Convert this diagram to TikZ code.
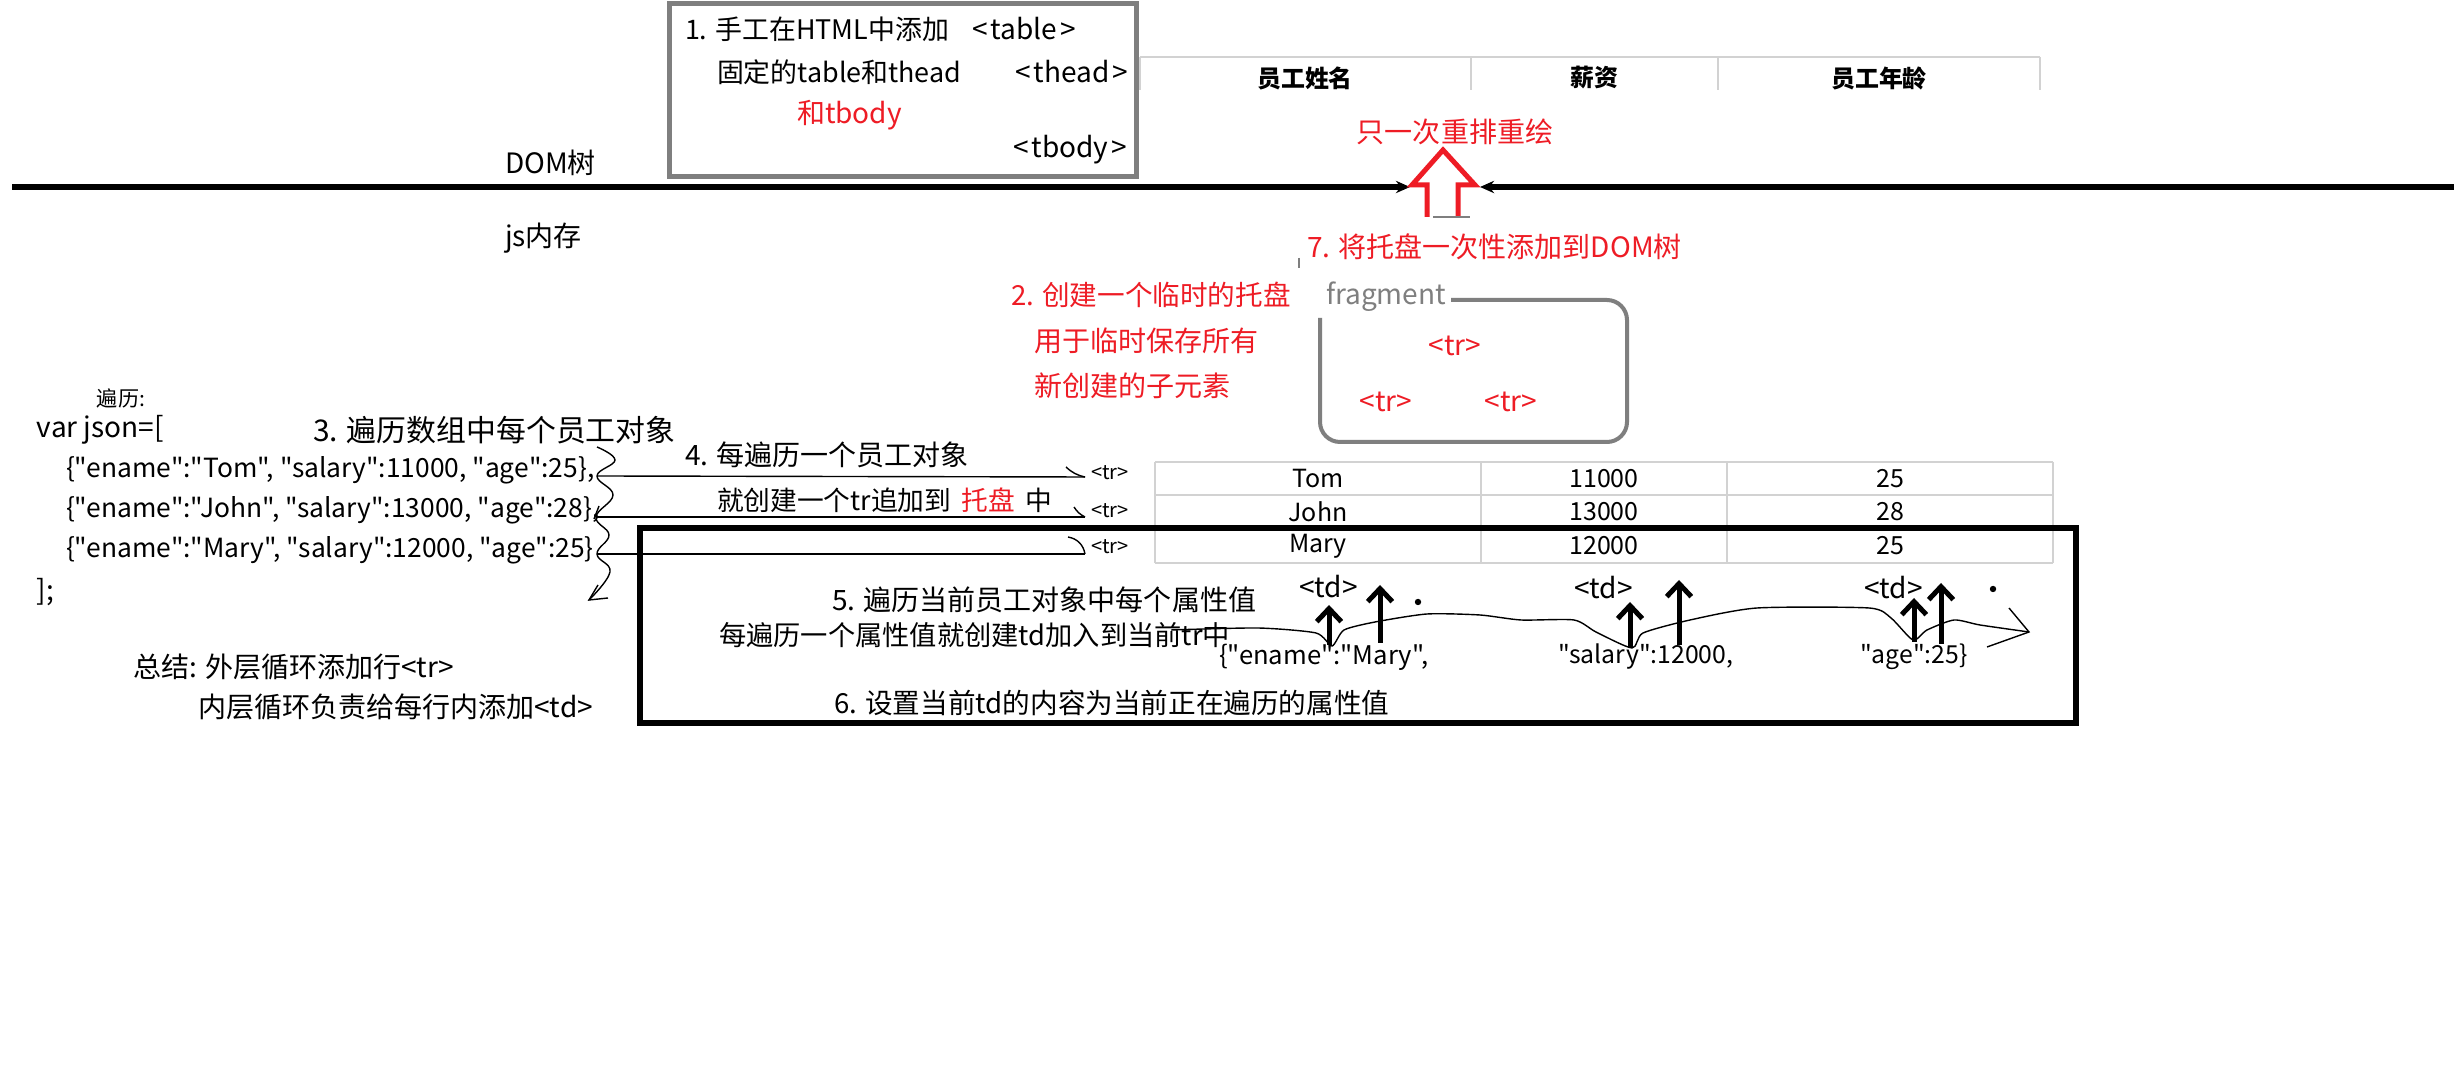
\documentclass[tikz,border=0pt]{standalone}
\usepackage{fontspec}
\setmainfont{Noto Sans CJK SC}[Ligatures=TeXOff]
\usetikzlibrary{arrows.meta}
\definecolor{redc}{HTML}{EE1C25}
\definecolor{grayc}{HTML}{7F7F7F}
\definecolor{tline}{HTML}{D2D2D2}
\newcommand\fs[1]{\fontsize{#1}{#1}\selectfont}
\newcommand\tagtxt[1]{<\hspace{0.9pt}#1\hspace{0.9pt}>}
\tikzset{
  txtbase/.style={inner sep=0pt, outer sep=0pt, anchor=west, font=\fs{7.97pt}},
  rtxt/.style={txtbase, text=redc},
  smalltxt/.style={txtbase, font=\fs{5.7pt}},
  hdrtxt/.style={inner sep=0pt, font=\bfseries\fs{6.8pt}},
  celltxt/.style={inner sep=0pt, font=\fs{7.1pt}},
  tabline/.style={draw=tline, line width=0.5pt},
  thinln/.style={line width=0.4pt},
  tdarrow/.style={line width=1.42pt, -{Straight Barb[length=3.7pt,width=7pt]}},
  domln/.style={line width=1.71pt, -{Stealth[length=4pt,width=3.5pt]}},
}
\begin{document}
\begin{tikzpicture}[x=0.01cm,y=-0.01cm]
\useasboundingbox (0,0) rectangle (2454,1086);
\fill[white] (0,0) rectangle (2454,1086);

% ---- box 1
\node (box1) [draw=grayc, line width=1.42pt, minimum width=4.66cm, minimum height=1.72cm, inner sep=0pt] at (903,90) {};
\node[txtbase, font=\fs{7.65pt}] (t1) at (685,29) {1. 手工在HTML中添加};
\node[txtbase] (t1b) at (972,29) {\tagtxt{table}};
\node[txtbase, font=\fs{7.65pt}] (t2) at (717,72) {固定的table和thead};
\node[txtbase] (t2b) at (1015,72) {\tagtxt{thead}};
\node[rtxt] (t3) at (797,115) {和tbody};
\node[txtbase] (t4) at (1013,150) {\tagtxt{tbody}};

% ---- header table
\draw[tabline] (1140,57) -- (2040,57);
\foreach \xx in {1140,1471,1718,2040} \draw[tabline] (\xx,57) -- (\xx,90);
\node[hdrtxt] (h1) at (1305,78) {员工姓名};
\node[hdrtxt] (h2) at (1594,78) {薪资};
\node[hdrtxt] (h3) at (1879,78) {员工年龄};

\node[rtxt, anchor=center] (reflow) at (1455,132) {只一次重排重绘};

% ---- DOM line
\coordinate (domL) at (12,187);
\coordinate (domLe) at (1410,187);
\coordinate (domR) at (2454,187);
\coordinate (domRe) at (1480,187);
\draw[domln] (domL) -- (domLe);
\draw[domln] (domR) -- (domRe);
\node[txtbase] (dom) at (505,163) {DOM树};
\node[txtbase] (jsmem) at (505,238) {js内存};

% ---- red hollow arrow
\draw[redc, line width=1.42pt, line join=miter] (1427,217) -- (1427,185) -- (1412,185) -- (1443,150) -- (1475,185) -- (1458,185) -- (1458,217);
\draw[grayc, line width=0.3pt] (1433,217) -- (1470,217);
\node[rtxt] (step7) at (1307,247) {7. 将托盘一次性添加到DOM树};
\draw[grayc, line width=0.3pt] (1299,258) -- (1299,268);

% ---- fragment
\node[rtxt, font=\fs{7.85pt}] (s2a) at (1011,295) {2. 创建一个临时的托盘};
\node[rtxt] (s2b) at (1034,341) {用于临时保存所有};
\node[rtxt] (s2c) at (1034,386) {新创建的子元素};
\node[txtbase, text=grayc] (frag) at (1326,297) {fragment};
\draw[grayc, line width=1.14pt, rounded corners=5.7pt] (1451,300) -- (1627,300) -- (1627,442) -- (1320,442) -- (1320,318);
\node[rtxt, anchor=center] (ftr1) at (1455,346) {<tr>};
\node[rtxt, anchor=center] (ftr2) at (1386,402) {<tr>};
\node[rtxt, anchor=center] (ftr3) at (1511,402) {<tr>};

% ---- code
\node[smalltxt, font=\fs{6pt}] (trav) at (97,398) {遍历:};
\node[txtbase] (var) at (37,430) {var json=[};
\node[txtbase, font=\fs{7.5pt}] (c1) at (66,470) {\{"ename":"Tom", "salary":11000, "age":25\},};
\node[txtbase, font=\fs{7.5pt}] (c2) at (66,510) {\{"ename":"John", "salary":13000, "age":28\},};
\node[txtbase, font=\fs{7.5pt}] (c3) at (66,550) {\{"ename":"Mary", "salary":12000, "age":25\}};
\node[txtbase] (cend) at (37,592) {];};
\node[txtbase, font=\fs{8.5pt}] (s3) at (313,430) {3. 遍历数组中每个员工对象};

% wavy loop arrow
\coordinate (r1) at (597,476);
\coordinate (r2) at (596,517);
\coordinate (r3) at (597,554);
\coordinate (loopend) at (589,600);
\draw[thinln] plot[smooth, tension=0.7] coordinates {(597,447) (615,460) (r1) (613,495) (r2) (609,535) (r3) (610,572) (loopend)};
\draw[thinln] (598,585) -- (loopend) -- (608,598);
\draw[thinln] (599,506) -- (594,519);

% row lines to <tr>
\node[smalltxt] (tr1) at (1091,473) {<tr>};
\node[smalltxt] (tr2) at (1091,511) {<tr>};
\node[smalltxt] (tr3) at (1091,547) {<tr>};
\coordinate (e1) at (1085,477);
\coordinate (e2) at (1085,517);
\coordinate (e3) at (1085,554);
\draw[thinln] (r1) -- (e1);
\draw[thinln] (r2) -- (e2);
\draw[thinln] (r3) -- (e3);
\draw[thinln] (1066,467) to[bend right=15] (e1);
\draw[thinln] (1074,507) to[bend right=15] (e2);
\draw[thinln] (1068,537) to[bend left=35] (e3);

\node[txtbase] (s4a) at (685,455) {4. 每遍历一个员工对象};
\node[txtbase, font=\fs{7.6pt}] (s4b) at (717,500) {就创建一个tr追加到\hspace{3pt}\textcolor{redc}{托盘}\hspace{3pt}中};

% ---- data table
\draw[tabline] (1155,462) -- (2053,462);
\draw[tabline] (1155,495) -- (2053,495);
\draw[tabline] (1155,529) -- (2053,529);
\draw[tabline] (1155,563) -- (2053,563);
\foreach \xx in {1155,1481,1727,2053} \draw[tabline] (\xx,462) -- (\xx,563);
\node[celltxt] (d11) at (1318,479) {Tom};
\node[celltxt] (d12) at (1604,479) {11000};
\node[celltxt] (d13) at (1890,479) {25};
\node[celltxt] (d21) at (1318,512) {John};
\node[celltxt] (d22) at (1604,512) {13000};
\node[celltxt] (d23) at (1890,512) {28};
\node[celltxt] (d31) at (1318,546) {Mary};
\node[celltxt] (d32) at (1604,546) {12000};
\node[celltxt] (d33) at (1890,546) {25};

% ---- big box
\node (bigbox) [draw, line width=1.71pt, minimum width=14.36cm, minimum height=1.95cm, inner sep=0pt] at (1358,625.5) {};
\node[txtbase] (s5) at (832,600) {5. 遍历当前员工对象中每个属性值};
\node[txtbase, font=\fs{7.75pt}] (s5b) at (719,635) {每遍历一个属性值就创建td加入到当前tr中};
\node[txtbase, font=\fs{7.85pt}] (s6) at (834,703) {6. 设置当前td的内容为当前正在遍历的属性值};
\node[txtbase, font=\fs{7.3pt}] (p1) at (1219,657) {\{"ename":"Mary",};
\node[txtbase, font=\fs{7.05pt}] (p2) at (1558,657) {"salary":12000,};
\node[txtbase, font=\fs{7.05pt}] (p3) at (1860,657) {"age":25\}};
\node[txtbase] (td1) at (1299,587) {<td>};
\node[txtbase] (td2) at (1574,588) {<td>};
\node[txtbase] (td3) at (1864,588) {<td>};

\coordinate (a1s) at (1329,645); \coordinate (a1e) at (1329,605);
\coordinate (a2s) at (1380,643); \coordinate (a2e) at (1380,585);
\coordinate (a3s) at (1630,648); \coordinate (a3e) at (1630,602);
\coordinate (a4s) at (1679,645); \coordinate (a4e) at (1679,580);
\coordinate (a5s) at (1914,642); \coordinate (a5e) at (1914,598);
\coordinate (a6s) at (1941,644); \coordinate (a6e) at (1941,583);
\foreach \i in {1,...,6} \draw[tdarrow] (a\i s) -- (a\i e);

\fill (1418,602) circle (3.2);
\fill (1993,589) circle (3.2);

% wavy attribute line
\coordinate (wend) at (2029,632);
\draw[thinln] plot[smooth, tension=0.4] coordinates {(1171,630) (1258,628) (1316,633) (1332,646) (1344,630) (1375,622) (1427,614) (1480,615) (1521,620) (1574,620) (1596,632) (1632,648) (1643,633) (1690,620) (1757,608) (1869,608) (1891,618) (1913,640) (1927,630) (1954,620) (1980,625) (wend)};
\draw[thinln] (2009,608) -- (wend) -- (1987,647);

% ---- summary
\node[txtbase] (sum1) at (133,667) {总结: 外层循环添加行<tr>};
\node[txtbase] (sum2) at (198,707) {内层循环负责给每行内添加<td>};
\end{tikzpicture}
\end{document}
